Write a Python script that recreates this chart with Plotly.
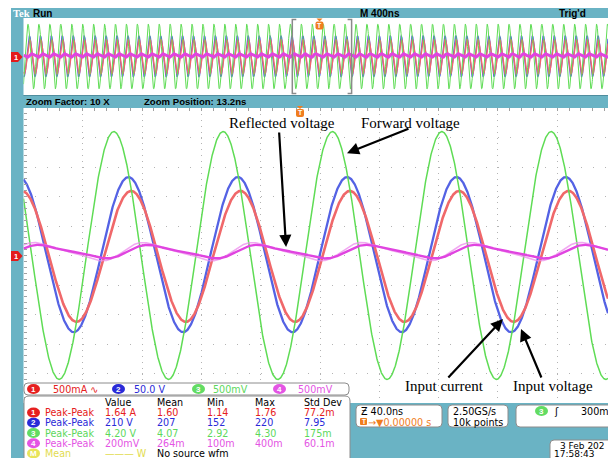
import numpy as np
import plotly.graph_objects as go

W, H = 608, 458

# ---------------- acquisition settings ----------------
FREQ_MHZ = 13.56
RECORD_NS_PER_DIV = 400.0
ZOOM_NS_PER_DIV = 40.0
ZOOM_POSITION_NS = 13.2
H_DIVS = 10

# ---------------- channel waveforms (screen divisions) ----------------
channels = ["1", "2", "3", "4"]
channel_names = ["Input current", "Input voltage", "Forward voltage", "Reflected voltage"]
channel_colors = ["#f0686a", "#5462e4", "#5fdc55", "#e044e0"]
text_colors = ["#e62020", "#2a2ad8", "#5cd85c", "#e454e4"]
amplitude_div = [2.22, 2.63, 4.20, 0.23]
offset_div = [-0.03, 0.03, 0.00, 0.13]
peak_time_ns = [33.3, 31.5, 21.6, 44.4]
refl_second_harmonic = 0.28
refl_ghost_shift_ns = -3.0
refl_ghost_gain = 1.35

# ---------------- readouts ----------------
scale_text = ["500mA ∿", "50.0 V", "500mV", "500mV"]
meas_type = "Peak-Peak"
meas_headers = ["Value", "Mean", "Min", "Max", "Std Dev"]
meas_value = ["1.64 A", "210 V", "4.20 V", "200mV"]
meas_mean = ["1.60", "207", "4.07", "264m"]
meas_min = ["1.14", "152", "2.92", "100m"]
meas_max = ["1.76", "220", "4.30", "400m"]
meas_std = ["77.2m", "7.95", "175m", "60.1m"]

# ---------------- screen geometry ----------------
LEFT_PX, DIV_PX = 23.5, 59.3
MAIN_TOP, MAIN_BOT = 108.0, 403.0
REC_TOP, REC_BOT = 18.0, 95.0
visible_divs = (W - LEFT_PX) / DIV_PX
main_t0 = ZOOM_POSITION_NS - H_DIVS / 2 * ZOOM_NS_PER_DIV
main_t1 = main_t0 + visible_divs * ZOOM_NS_PER_DIV
rec_t0 = -H_DIVS / 2 * RECORD_NS_PER_DIV
rec_t1 = rec_t0 + visible_divs * RECORD_NS_PER_DIV

TEAL = "#6ab3c4"
UI = "DejaVu Sans"
UIB = "Liberation Sans"
SERIF = "Liberation Serif"

OMEGA = 2 * np.pi * FREQ_MHZ / 1000.0  # rad per ns
_g = np.linspace(-np.pi, np.pi, 4001)
_refl = np.cos(_g) - refl_second_harmonic * np.sin(2 * _g)
REFL_PEAK_PHASE = _g[np.argmax(_refl)]
REFL_NORM = _refl.max()


def waveform(i, t, shift=0.0, gain=1.0):
    th = OMEGA * (t - peak_time_ns[i] - shift)
    if channels[i] == "4":
        th = th + REFL_PEAK_PHASE
        s = (np.cos(th) - refl_second_harmonic * np.sin(2 * th)) / REFL_NORM
    else:
        s = np.cos(th)
    return offset_div[i] + gain * amplitude_div[i] * s


def X(px):
    return px / W


def Y(py):
    return 1 - py / H


shapes = []
annotations = []


def rect(x0, y0, x1, y1, fill, line=None, lw=1, layer="below"):
    shapes.append(dict(type="rect", xref="paper", yref="paper",
                       x0=X(x0), x1=X(x1), y0=Y(y1), y1=Y(y0),
                       fillcolor=fill, layer=layer,
                       line=dict(color=line or fill, width=lw if line else 0)))


def rrect(x0, y0, x1, y1, r, fill="white", line="#8c8c8c", lw=1, layer="above"):
    p = (f"M {X(x0 + r)},{Y(y0)} L {X(x1 - r)},{Y(y0)} Q {X(x1)},{Y(y0)} {X(x1)},{Y(y0 + r)} "
         f"L {X(x1)},{Y(y1 - r)} Q {X(x1)},{Y(y1)} {X(x1 - r)},{Y(y1)} L {X(x0 + r)},{Y(y1)} "
         f"Q {X(x0)},{Y(y1)} {X(x0)},{Y(y1 - r)} L {X(x0)},{Y(y0 + r)} Q {X(x0)},{Y(y0)} {X(x0 + r)},{Y(y0)} Z")
    shapes.append(dict(type="path", xref="paper", yref="paper", path=p,
                       fillcolor=fill, line=dict(color=line, width=lw), layer=layer))


def poly(pts, fill, layer="above", line=None, lw=0):
    p = "M " + " L ".join(f"{X(a)},{Y(b)}" for a, b in pts) + " Z"
    shapes.append(dict(type="path", xref="paper", yref="paper", path=p, fillcolor=fill,
                       line=dict(color=line or fill, width=lw), layer=layer))


def seg(pts, color, lw=1, layer="above"):
    p = "M " + " L ".join(f"{X(a)},{Y(b)}" for a, b in pts)
    shapes.append(dict(type="path", xref="paper", yref="paper", path=p,
                       line=dict(color=color, width=lw), layer=layer))


def oval(x0, y0, x1, y1, fill):
    shapes.append(dict(type="circle", xref="paper", yref="paper",
                       x0=X(x0), x1=X(x1), y0=Y(y1), y1=Y(y0),
                       fillcolor=fill, line=dict(color=fill, width=0), layer="above"))


def text(x, y, s, color="black", size=9.6, family=UI, anchor="left", bold=False):
    annotations.append(dict(xref="paper", yref="paper", x=X(x), y=Y(y),
                            text=f"<b>{s}</b>" if bold else s, showarrow=False,
                            xanchor=anchor, yanchor="middle", borderpad=0,
                            font=dict(color=color, size=size, family=family)))


def badge(x0, y, label, fill, w=13, h=10):
    oval(x0, y - h / 2, x0 + w, y + h / 2, fill)
    text(x0 + w / 2, y, label, "white", 8, UIB, anchor="center", bold=True)


# ---------------- frame / backgrounds ----------------
rect(11, 8, W, H, TEAL)
rect(LEFT_PX, REC_TOP, W, REC_BOT, "white")
rect(LEFT_PX, MAIN_TOP, W, MAIN_BOT, "white")
seg([(LEFT_PX, REC_BOT + 0.5), (W, REC_BOT + 0.5)], "#4f8d9e", 1, "below")

# header bar
text(11.5, 13, "Tek", "white", 10.5, SERIF, bold=True)
text(32, 13, "Run", "black", 10, UIB, bold=True)
text(359, 13, "M 400ns", "black", 10, UIB, bold=True)
text(558, 13, "Trig'd", "black", 10, UIB, bold=True)
# zoom bar
text(25, 101, "Zoom Factor: 10 X", "black", 9.6, UIB, bold=True)
text(143, 101, f"Zoom Position: {ZOOM_POSITION_NS}ns", "black", 9.6, UIB, bold=True)

# zoom-window brackets on the record view
zx0 = LEFT_PX + (ZOOM_POSITION_NS - ZOOM_NS_PER_DIV * H_DIVS / 2 - rec_t0) / RECORD_NS_PER_DIV * DIV_PX
zx1 = LEFT_PX + (ZOOM_POSITION_NS + ZOOM_NS_PER_DIV * H_DIVS / 2 - rec_t0) / RECORD_NS_PER_DIV * DIV_PX
seg([(zx0 + 4, REC_TOP + 1.5), (zx0, REC_TOP + 1.5), (zx0, REC_BOT - 1.5), (zx0 + 4, REC_BOT - 1.5)], "#8a8a8a", 1.5)
seg([(zx1 - 4, REC_TOP + 1.5), (zx1, REC_TOP + 1.5), (zx1, REC_BOT - 1.5), (zx1 - 4, REC_BOT - 1.5)], "#8a8a8a", 1.5)

# trigger markers
ORANGE = "#f07d1e"
for tx, ty in [(319.5, 25.5), (300.0, 113.0)]:
    poly([(tx - 3, ty - 7), (tx + 3, ty - 7), (tx, ty - 4)], ORANGE)
    rrect(tx - 4, ty - 4, tx + 4, ty + 4, 2, ORANGE, ORANGE, 0)
    text(tx, ty, "T", "white", 7, UIB, anchor="center", bold=True)

# channel 1 ground markers
for my in [57.0, 256.0]:
    poly([(11, my - 5), (18, my - 5), (22.5, my), (18, my + 5), (11, my + 5)], "#e31b1b")
    text(15.5, my, "1", "white", 7.5, UIB, anchor="center", bold=True)

# ---------------- traces ----------------
fig = go.Figure()
t_main = np.linspace(main_t0, main_t1, 1800)
t_rec = np.linspace(rec_t0, rec_t1, 3600)
main_width = [2.6, 2.3, 1.5, 2.4]
rec_width = [1.4, 1.3, 1.0, 3.0]
for i in [1, 0, 2]:
    fig.add_trace(go.Scatter(x=t_rec, y=waveform(i, t_rec), mode="lines", xaxis="x2", yaxis="y2",
                             line=dict(color=channel_colors[i], width=rec_width[i]),
                             name=channel_names[i], hoverinfo="skip"))
fig.add_trace(go.Scatter(x=t_rec, y=waveform(3, t_rec), mode="lines", xaxis="x2", yaxis="y2",
                         line=dict(color=channel_colors[3], width=rec_width[3]),
                         name=channel_names[3], hoverinfo="skip"))
for i in [1, 0, 2]:
    fig.add_trace(go.Scatter(x=t_main, y=waveform(i, t_main), mode="lines",
                             line=dict(color=channel_colors[i], width=main_width[i]),
                             name=channel_names[i], hoverinfo="skip"))
fig.add_trace(go.Scatter(x=t_main, y=waveform(3, t_main, refl_ghost_shift_ns, refl_ghost_gain),
                         mode="lines", line=dict(color="rgba(236,140,236,0.75)", width=1.6),
                         name=channel_names[3] + " (persist)", hoverinfo="skip"))
fig.add_trace(go.Scatter(x=t_main, y=waveform(3, t_main), mode="lines",
                         line=dict(color=channel_colors[3], width=main_width[3]),
                         name=channel_names[3], hoverinfo="skip"))

# ---------------- callouts ----------------
callouts = [
    # label, label x/y (px), arrow tip (ns, div), tail offset (px)
    ("Reflected voltage", 228, 123, -9.7, 0.29, -7, -116),
    ("Forward voltage", 360, 123, 31.4, 3.47, 63, -25),
    ("Input current", 404, 386, 136.6, -2.15, -56, 60),
    ("Input voltage", 512, 386, 148.8, -2.49, 21, 50),
]
for label, lx, ly, tt, tv, ax, ay in callouts:
    text(lx, ly, label, "black", 15, SERIF)
    annotations.append(dict(x=tt, y=tv, xref="x", yref="y", text="", showarrow=True,
                            ax=ax, ay=ay, arrowhead=2, arrowsize=1.1, arrowwidth=2.2,
                            arrowcolor="black", standoff=0))

# ---------------- bottom readout panels ----------------
rect(350, MAIN_BOT, W, H, TEAL, layer="above")
rrect(24, 383, 349, 395, 4)
rrect(24, 396, 350, 470, 5)
badge_x = [27, 112, 192, 273]
scale_x = [52, 133, 212, 297]
for i in range(4):
    badge(badge_x[i], 389, channels[i], text_colors[i] if i != 2 else "#62dc62")
    text(scale_x[i], 389, scale_text[i], text_colors[i], 9.6)

ROW0, ROW_STEP = 402.4, 10.2
col_x = [104, 156, 206, 254, 303]
for cx, hd in zip(col_x, meas_headers):
    text(cx, ROW0, hd, "black", 9.6)
for i in range(4):
    y = ROW0 + ROW_STEP * (i + 1)
    badge(27, y, channels[i], text_colors[i] if i != 2 else "#62dc62")
    text(44, y, meas_type, text_colors[i], 9.6)
    for cx, val in zip(col_x, [meas_value[i], meas_mean[i], meas_min[i], meas_max[i], meas_std[i]]):
        text(cx, y, val, text_colors[i], 9.6)
y5 = ROW0 + ROW_STEP * 5
badge(27, y5, "M", "#e8e45a")
text(44, y5, "Mean", "#e2dc50", 9.6)
text(104, y5, "——— W", "#e2dc50", 9.6)
text(156, y5, "No source wfm", "black", 9.6)

rrect(356, 405, 442, 427, 4)
text(360, 411, "Ƶ 40.0ns", "black", 9.6)
rrect(360, 418, 367, 425, 1, ORANGE, ORANGE, 0)
text(363.5, 421.5, "T", "white", 6.5, UIB, anchor="center", bold=True)
text(367, 422, "→▼0.00000 s", ORANGE, 9.6)
rrect(448, 405, 508, 427, 4)
text(452, 411, "2.50GS/s", "black", 9.6)
text(452, 422, "10k points", "black", 9.6)
rrect(516, 405, 616, 427, 4)
badge(535, 411, "3", "#62dc62")
text(553, 411, "ʃ", "black", 10)
text(580, 411, "300mV", "black", 9.6)
rrect(550, 440, 620, 470, 4)
text(559, 445.5, "3 Feb 202", "black", 9)
text(553, 453.5, "17:58:43", "black", 9)

# ---------------- axes ----------------
grid_col = "#b4b4b4"
fig.update_layout(
    width=W, height=H, margin=dict(l=0, r=0, t=0, b=0),
    paper_bgcolor="white", plot_bgcolor="rgba(0,0,0,0)", showlegend=False,
    xaxis=dict(domain=[X(LEFT_PX), 1], range=[main_t0, main_t1], anchor="y", side="top",
               tickvals=[main_t0 + k * ZOOM_NS_PER_DIV for k in range(1, H_DIVS)],
               showgrid=True, gridcolor=grid_col, gridwidth=1, griddash="1px,4.9px",
               zeroline=False, showticklabels=False, ticks="inside", ticklen=3, tickcolor="#a0a0a0",
               minor=dict(ticks="inside", ticklen=3, tickcolor="#a0a0a0", tick0=main_t0,
                          dtick=ZOOM_NS_PER_DIV / 5, showgrid=False)),
    yaxis=dict(domain=[Y(MAIN_BOT), Y(MAIN_TOP)], range=[-5, 5], anchor="x",
               tickvals=list(range(-4, 5)), showgrid=True, gridcolor=grid_col, gridwidth=1,
               griddash="1px,10.86px", zeroline=False, showticklabels=False,
               ticks="inside", ticklen=3, tickcolor="#a0a0a0",
               minor=dict(ticks="inside", ticklen=3, tickcolor="#a0a0a0", tick0=-5, dtick=0.2,
                          showgrid=False)),
    xaxis2=dict(domain=[X(LEFT_PX), 1], range=[rec_t0, rec_t1], anchor="y2", visible=False),
    yaxis2=dict(domain=[Y(REC_BOT), Y(REC_TOP)], range=[-5, 5], anchor="x2", visible=False),
    shapes=shapes, annotations=annotations,
)

fig.write_html("out.html")
